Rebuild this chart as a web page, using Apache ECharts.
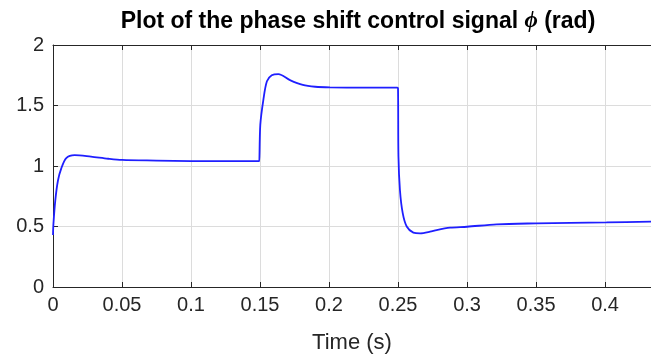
<!DOCTYPE html>
<html>
<head>
<meta charset="utf-8">
<script src="https://cdn.jsdelivr.net/npm/echarts@6/dist/echarts.min.js"></script>
<style>
html,body{margin:0;padding:0;background:#fff;}
#c{width:651px;height:356px;}
</style>
</head>
<body>
<div id="c"></div>
<script>
const titleText = 'Plot of the phase shift control signal ';
const xName = 'Time (s)';
const xTicks = [0, 0.05, 0.1, 0.15, 0.2, 0.25, 0.3, 0.35, 0.4];
const yTicks = [0, 0.5, 1, 1.5, 2];
const timeS = [0, 0.0003, 0.0017, 0.0036, 0.006, 0.0096, 0.0157, 0.0275, 0.04, 0.05, 0.075, 0.1, 0.1495,
  0.15, 0.1502, 0.1524, 0.155, 0.1585, 0.1633, 0.1717, 0.181, 0.19, 0.2007, 0.225, 0.2495,
  0.25, 0.2503, 0.2514, 0.2534, 0.2563, 0.2611, 0.266, 0.2732, 0.278, 0.2877, 0.30, 0.3215, 0.35, 0.375, 0.401, 0.434];
const phiRad = [0.43, 0.52, 0.72, 0.88, 0.98, 1.066, 1.09, 1.077, 1.06, 1.05, 1.045, 1.041, 1.04,
  1.04, 1.34, 1.545, 1.70, 1.75, 1.76, 1.71, 1.67, 1.655, 1.65, 1.648, 1.648,
  1.64, 1.08, 0.80, 0.61, 0.50, 0.45, 0.444, 0.457, 0.471, 0.49, 0.498, 0.518, 0.526, 0.53, 0.534, 0.54];

const xMax = 0.4333;
const pts = timeS.map((t, i) => [t, phiRad[i]]);
const font = 'Liberation Sans, Arial, Helvetica, sans-serif';
const axisCol = '#262626';

const chart = echarts.init(document.getElementById('c'), null, {renderer: 'canvas'});
chart.setOption({
  animation: false,
  backgroundColor: '#ffffff',
  title: {
    text: '{t|' + titleText + '}{p|ϕ}{t| (rad)}',
    left: 353, top: 5, textAlign: 'center',
    textStyle: {
      rich: {
        t: {fontFamily: font, fontWeight: 'bold', fontSize: 23, color: '#000'},
        p: {fontFamily: 'Liberation Serif, serif', fontStyle: 'italic', fontSize: 23, color: '#000'}
      }
    }
  },
  grid: {left: 53, top: 45, height: 242, right: 0, containLabel: false, outerBoundsMode: 'none'},
  xAxis: [{
    type: 'value', min: 0, max: xMax, interval: 0.05,
    name: xName, nameLocation: 'middle', nameGap: 45,
    nameTextStyle: {fontFamily: font, fontSize: 22, color: axisCol},
    axisLine: {show: true, onZero: false, lineStyle: {color: axisCol, width: 1}},
    axisTick: {show: true, inside: true, length: 5, lineStyle: {color: axisCol}},
    axisLabel: {fontFamily: font, fontSize: 20, color: axisCol, margin: 8, showMaxLabel: false,
      formatter: v => xTicks.some(t => Math.abs(t - v) < 1e-9) ? String(+v.toFixed(2)) : ''},
    splitLine: {show: true, lineStyle: {color: '#dcdcdc', width: 1}}
  }, {
    type: 'value', position: 'top', min: 0, max: xMax, interval: 0.05,
    axisLine: {show: true, onZero: false, lineStyle: {color: axisCol, width: 1}},
    axisTick: {show: true, inside: true, length: 5, lineStyle: {color: axisCol}},
    axisLabel: {show: false}, splitLine: {show: false}
  }],
  yAxis: {
    type: 'value', min: yTicks[0], max: yTicks[yTicks.length - 1], interval: 0.5,
    axisLine: {show: true, onZero: false, lineStyle: {color: axisCol, width: 1}},
    axisTick: {show: true, inside: true, length: 5, lineStyle: {color: axisCol}},
    axisLabel: {fontFamily: font, fontSize: 20, color: axisCol, margin: 9},
    splitLine: {show: true, lineStyle: {color: '#dcdcdc', width: 1}}
  },
  series: [{
    type: 'line', data: pts, showSymbol: false, symbol: 'none',
    smooth: 0.3,
    lineStyle: {color: '#1f1fff', width: 1.8}
  }]
});
</script>
</body>
</html>
